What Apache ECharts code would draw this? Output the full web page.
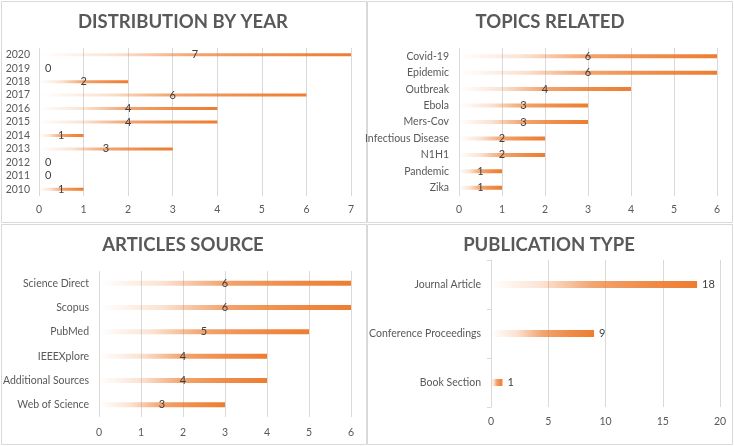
<!DOCTYPE html>
<html>
<head>
<meta charset="utf-8">
<script src="https://cdn.jsdelivr.net/npm/echarts@6/dist/echarts.min.js"></script>
<style>html,body{margin:0;padding:0;background:#fff}#c{width:734px;height:446px}</style>
</head>
<body>
<div id="c"></div>
<script>
// ---- data ----
const yearCats = ['2010','2011','2012','2013','2014','2015','2016','2017','2018','2019','2020'];
const yearVals = [1,0,0,3,1,4,4,6,2,0,7];

const topicCats = ['Zika','Pandemic','N1H1','Infectious Disease','Mers-Cov','Ebola','Outbreak','Epidemic','Covid-19'];
const topicVals = [1,1,2,2,3,3,4,6,6];

const sourceCats = ['Web of Science','Additional Sources','IEEEXplore','PubMed','Scopus','Science Direct'];
const sourceVals = [3,4,4,5,6,6];

const typeCats = ['Book Section','Conference Proceedings','Journal Article'];
const typeVals = [1,9,18];

const titles = ['DISTRIBUTION BY YEAR','TOPICS RELATED','ARTICLES SOURCE','PUBLICATION TYPE'];

// ---- styling ----
const FONT = 'Lato';
const TXT = '#595959';
const GRID = '#d9d9d9';
const ORANGE = '237,125,49';
const grad = () => new echarts.graphic.LinearGradient(0,0,1,0,[
  {offset:0, color:'rgba('+ORANGE+',0)'},
  {offset:0.25, color:'rgba('+ORANGE+',0.22)'},
  {offset:0.5, color:'rgba('+ORANGE+',0.7)'},
  {offset:0.75, color:'rgba('+ORANGE+',0.88)'},
  {offset:1, color:'rgba('+ORANGE+',1)'}
]);

const grids = [
  {left:39, top:48, width:312, height:148},
  {left:459, top:48, width:258, height:148},
  {left:96, top:271, width:255, height:146},
  {left:491, top:260, width:229, height:147}
];
const cats = [yearCats, topicCats, sourceCats, typeCats];
const vals = [yearVals, topicVals, sourceVals, typeVals];
const maxes = [7,6,6,20];
const intervals = [1,1,1,5];
const barW = [3,4,5,7];
const xMargin = [8,8,10,9];

const xAxis = grids.map((g,i)=>({
  type:'value', gridIndex:i, min:0, max:maxes[i], interval:intervals[i],
  axisLine:{show:false}, axisTick:{show:false},
  splitLine:{lineStyle:{color:GRID, width:1}},
  axisLabel:{color:TXT, fontFamily:FONT, fontSize:10.5, margin:xMargin[i]}
}));
const yAxis = grids.map((g,i)=>({
  type:'category', gridIndex:i, data:cats[i],
  axisLine:{show:i===3, lineStyle:{color:GRID}},
  axisTick:{show:i===3, length:4, lineStyle:{color:GRID}},
  axisLabel:{interval:0, color:TXT, fontFamily:FONT, fontSize:10.5, margin:i===0?9:10}
}));
const series = grids.map((g,i)=>({
  type:'bar', xAxisIndex:i, yAxisIndex:i, barWidth:barW[i],
  data: vals[i].map(v => v===0 ? {value:v, label:{position:'right', distance:6}} : v),
  itemStyle:{color:grad()},
  label:{show:true, position:i===3?'right':'inside', distance:5,
         color:'#404040', fontFamily:FONT, fontSize:11}
}));

const titleCenters = [[183,13],[550,13],[183,236],[549,236]];
const title = titles.map((t,i)=>({
  text:t, left:titleCenters[i][0], top:titleCenters[i][1], textAlign:'center', padding:0,
  textStyle:{color:TXT, fontFamily:FONT, fontWeight:'bold', fontSize:18.5}
}));

const rects = [[1,1,365,221],[367,1,365,221],[1,224,365,220],[367,224,365,220]];
const graphic = rects.map(r=>({
  type:'rect', shape:{x:r[0]+0.5,y:r[1]+0.5,width:r[2],height:r[3]},
  style:{fill:'none', stroke:GRID, lineWidth:1}, silent:true
}));

const chart = echarts.init(document.getElementById('c'), null, {renderer:'canvas'});
chart.setOption({
  animation:false, backgroundColor:'#fff',
  title, grid:grids, xAxis, yAxis, series, graphic
});
</script>
</body>
</html>
